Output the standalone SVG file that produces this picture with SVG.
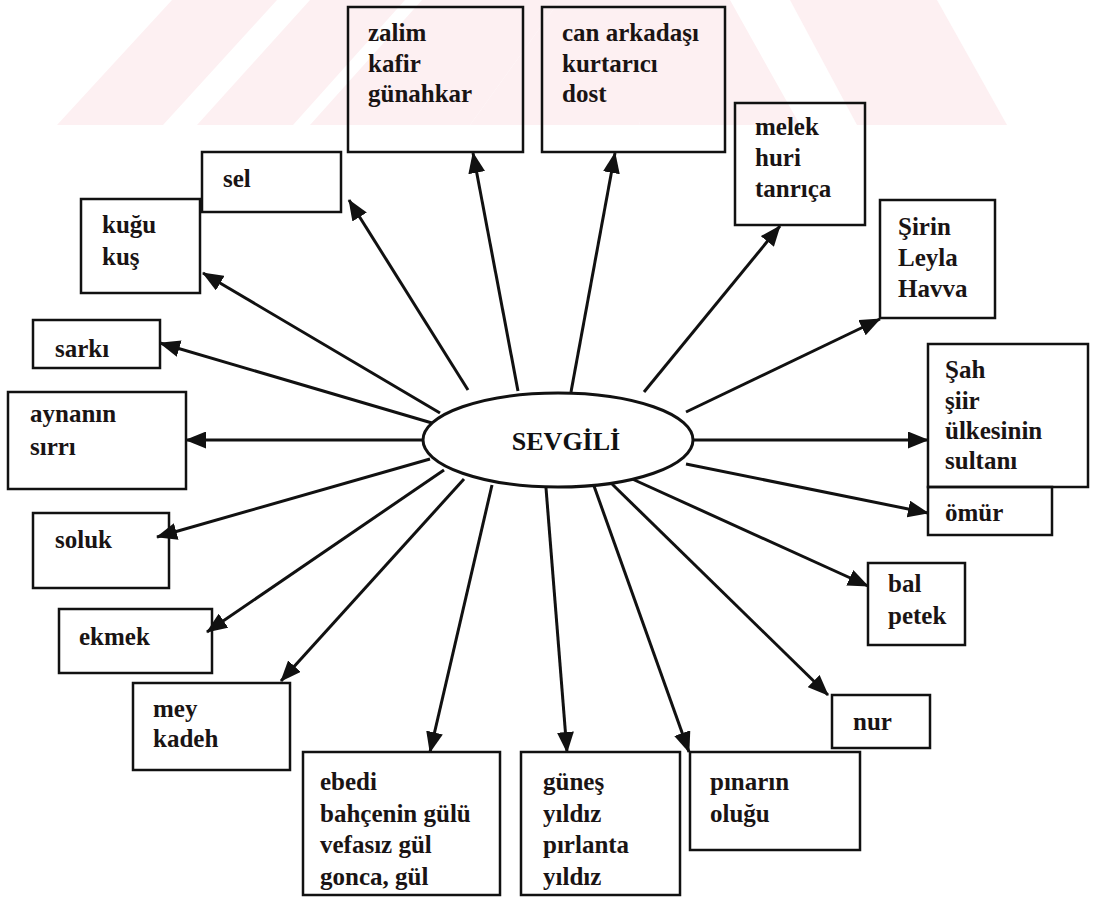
<svg xmlns="http://www.w3.org/2000/svg" width="1094" height="899" viewBox="0 0 1094 899">
  <style>
    .box { fill: none; stroke: #111; stroke-width: 2.5; }
    .lbl { font-family: "Liberation Serif", "Times New Roman", serif; font-size: 25px; font-weight: bold; fill: #1a1414; }
    .title { font-family: "Liberation Serif", "Times New Roman", serif; font-size: 26px; font-weight: bold; fill: #111; }
    .wire { stroke: #111; stroke-width: 3; fill: none; marker-end: url(#head); }
    .band { fill: #fdf0f2; }
  </style>
  <defs>
    <marker id="head" markerUnits="userSpaceOnUse" markerWidth="21" markerHeight="17" refX="20" refY="8.5" orient="auto">
      <path d="M0,0 L21,8.5 L0,17 Z" fill="#111"/>
    </marker>
    <clipPath id="bandClip"><rect x="0" y="0" width="1094" height="125"/></clipPath>
  </defs>

  <rect width="1094" height="899" fill="#fff"/>

  <!-- faint striped band across the top -->
  <g id="band" clip-path="url(#bandClip)">
    <polygon class="band" points="57,125 163,125 277,0 172,0"/>
    <polygon class="band" points="197,125 293,125 405,0 310,0"/>
    <polygon class="band" points="310,125 470,125 560,0 422,0"/>
    <polygon class="band" points="470,125 640,125 610,0 560,0"/>
    <polygon class="band" points="640,125 800,125 730,0 600,0"/>
    <polygon class="band" points="857,125 1007,125 937,0 790,0"/>
  </g>

  <!-- connectors from the centre -->
  <g id="connectors">
    <line class="wire" x1="468" y1="390" x2="349" y2="200"/>
    <line class="wire" x1="440" y1="413" x2="203" y2="273"/>
    <line class="wire" x1="432" y1="423" x2="160" y2="343"/>
    <line class="wire" x1="423" y1="440" x2="186" y2="440"/>
    <line class="wire" x1="430" y1="459" x2="157" y2="537"/>
    <line class="wire" x1="444" y1="470" x2="207" y2="632"/>
    <line class="wire" x1="464" y1="479" x2="281" y2="681"/>
    <line class="wire" x1="492" y1="485" x2="430" y2="752"/>
    <line class="wire" x1="546" y1="488" x2="567" y2="752"/>
    <line class="wire" x1="594" y1="486" x2="689" y2="752"/>
    <line class="wire" x1="612" y1="484" x2="828" y2="695"/>
    <line class="wire" x1="630" y1="478" x2="868" y2="586"/>
    <line class="wire" x1="686" y1="464" x2="928" y2="513"/>
    <line class="wire" x1="693" y1="440" x2="928" y2="440"/>
    <line class="wire" x1="686" y1="412" x2="880" y2="319"/>
    <line class="wire" x1="644" y1="392" x2="780" y2="226"/>
    <line class="wire" x1="571" y1="392" x2="615" y2="153"/>
    <line class="wire" x1="518" y1="391" x2="473" y2="153"/>
  </g>

  <g id="center">
    <ellipse cx="558" cy="440" rx="135" ry="47" fill="#fff" stroke="#111" stroke-width="3"/>
    <text class="title" x="566" y="450" text-anchor="middle">SEVGİLİ</text>
  </g>

  <g id="n-zalim">
    <rect class="box" x="348" y="7" width="175" height="145"/>
    <text class="lbl" x="368" y="41">zalim</text>
    <text class="lbl" x="368" y="72">kafir</text>
    <text class="lbl" x="368" y="102">günahkar</text>
  </g>
  <g id="n-can">
    <rect class="box" x="542" y="7" width="183" height="145"/>
    <text class="lbl" x="562" y="41">can arkadaşı</text>
    <text class="lbl" x="562" y="72">kurtarıcı</text>
    <text class="lbl" x="562" y="102">dost</text>
  </g>
  <g id="n-melek">
    <rect class="box" x="735" y="103" width="130" height="122"/>
    <text class="lbl" x="755" y="135">melek</text>
    <text class="lbl" x="755" y="166">huri</text>
    <text class="lbl" x="755" y="197">tanrıça</text>
  </g>
  <g id="n-sirin">
    <rect class="box" x="880" y="200" width="115" height="118"/>
    <text class="lbl" x="898" y="235">Şirin</text>
    <text class="lbl" x="898" y="266">Leyla</text>
    <text class="lbl" x="898" y="297">Havva</text>
  </g>
  <g id="n-sah">
    <rect class="box" x="928" y="344" width="160" height="143"/>
    <text class="lbl" x="945" y="378">Şah</text>
    <text class="lbl" x="945" y="409">şiir</text>
    <text class="lbl" x="945" y="439">ülkesinin</text>
    <text class="lbl" x="945" y="469">sultanı</text>
  </g>
  <g id="n-omur">
    <rect class="box" x="928" y="487" width="124" height="48"/>
    <text class="lbl" x="945" y="521">ömür</text>
  </g>
  <g id="n-bal">
    <rect class="box" x="868" y="563" width="97" height="82"/>
    <text class="lbl" x="888" y="592">bal</text>
    <text class="lbl" x="888" y="624">petek</text>
  </g>
  <g id="n-nur">
    <rect class="box" x="832" y="695" width="98" height="53"/>
    <text class="lbl" x="853" y="730">nur</text>
  </g>
  <g id="n-pinar">
    <rect class="box" x="690" y="752" width="170" height="98"/>
    <text class="lbl" x="710" y="790">pınarın</text>
    <text class="lbl" x="710" y="822">oluğu</text>
  </g>
  <g id="n-gunes">
    <rect class="box" x="521" y="752" width="159" height="143"/>
    <text class="lbl" x="543" y="790">güneş</text>
    <text class="lbl" x="543" y="822">yıldız</text>
    <text class="lbl" x="543" y="853">pırlanta</text>
    <text class="lbl" x="543" y="885">yıldız</text>
  </g>
  <g id="n-ebedi">
    <rect class="box" x="303" y="752" width="197" height="143"/>
    <text class="lbl" x="320" y="790">ebedi</text>
    <text class="lbl" x="320" y="822">bahçenin gülü</text>
    <text class="lbl" x="320" y="853">vefasız gül</text>
    <text class="lbl" x="320" y="885">gonca, gül</text>
  </g>
  <g id="n-mey">
    <rect class="box" x="133" y="683" width="157" height="87"/>
    <text class="lbl" x="153" y="717">mey</text>
    <text class="lbl" x="153" y="747">kadeh</text>
  </g>
  <g id="n-ekmek">
    <rect class="box" x="59" y="609" width="153" height="64"/>
    <text class="lbl" x="79" y="645">ekmek</text>
  </g>
  <g id="n-soluk">
    <rect class="box" x="33" y="513" width="136" height="75"/>
    <text class="lbl" x="55" y="548">soluk</text>
  </g>
  <g id="n-ayna">
    <rect class="box" x="8" y="392" width="178" height="97"/>
    <text class="lbl" x="30" y="422">aynanın</text>
    <text class="lbl" x="30" y="455">sırrı</text>
  </g>
  <g id="n-sarki">
    <rect class="box" x="33" y="320" width="127" height="48"/>
    <text class="lbl" x="55" y="357">sarkı</text>
  </g>
  <g id="n-kugu">
    <rect class="box" x="81" y="199" width="119" height="94"/>
    <text class="lbl" x="102" y="233">kuğu</text>
    <text class="lbl" x="102" y="265">kuş</text>
  </g>
  <g id="n-sel">
    <rect class="box" x="202" y="152" width="139" height="60"/>
    <text class="lbl" x="223" y="187">sel</text>
  </g>
</svg>
